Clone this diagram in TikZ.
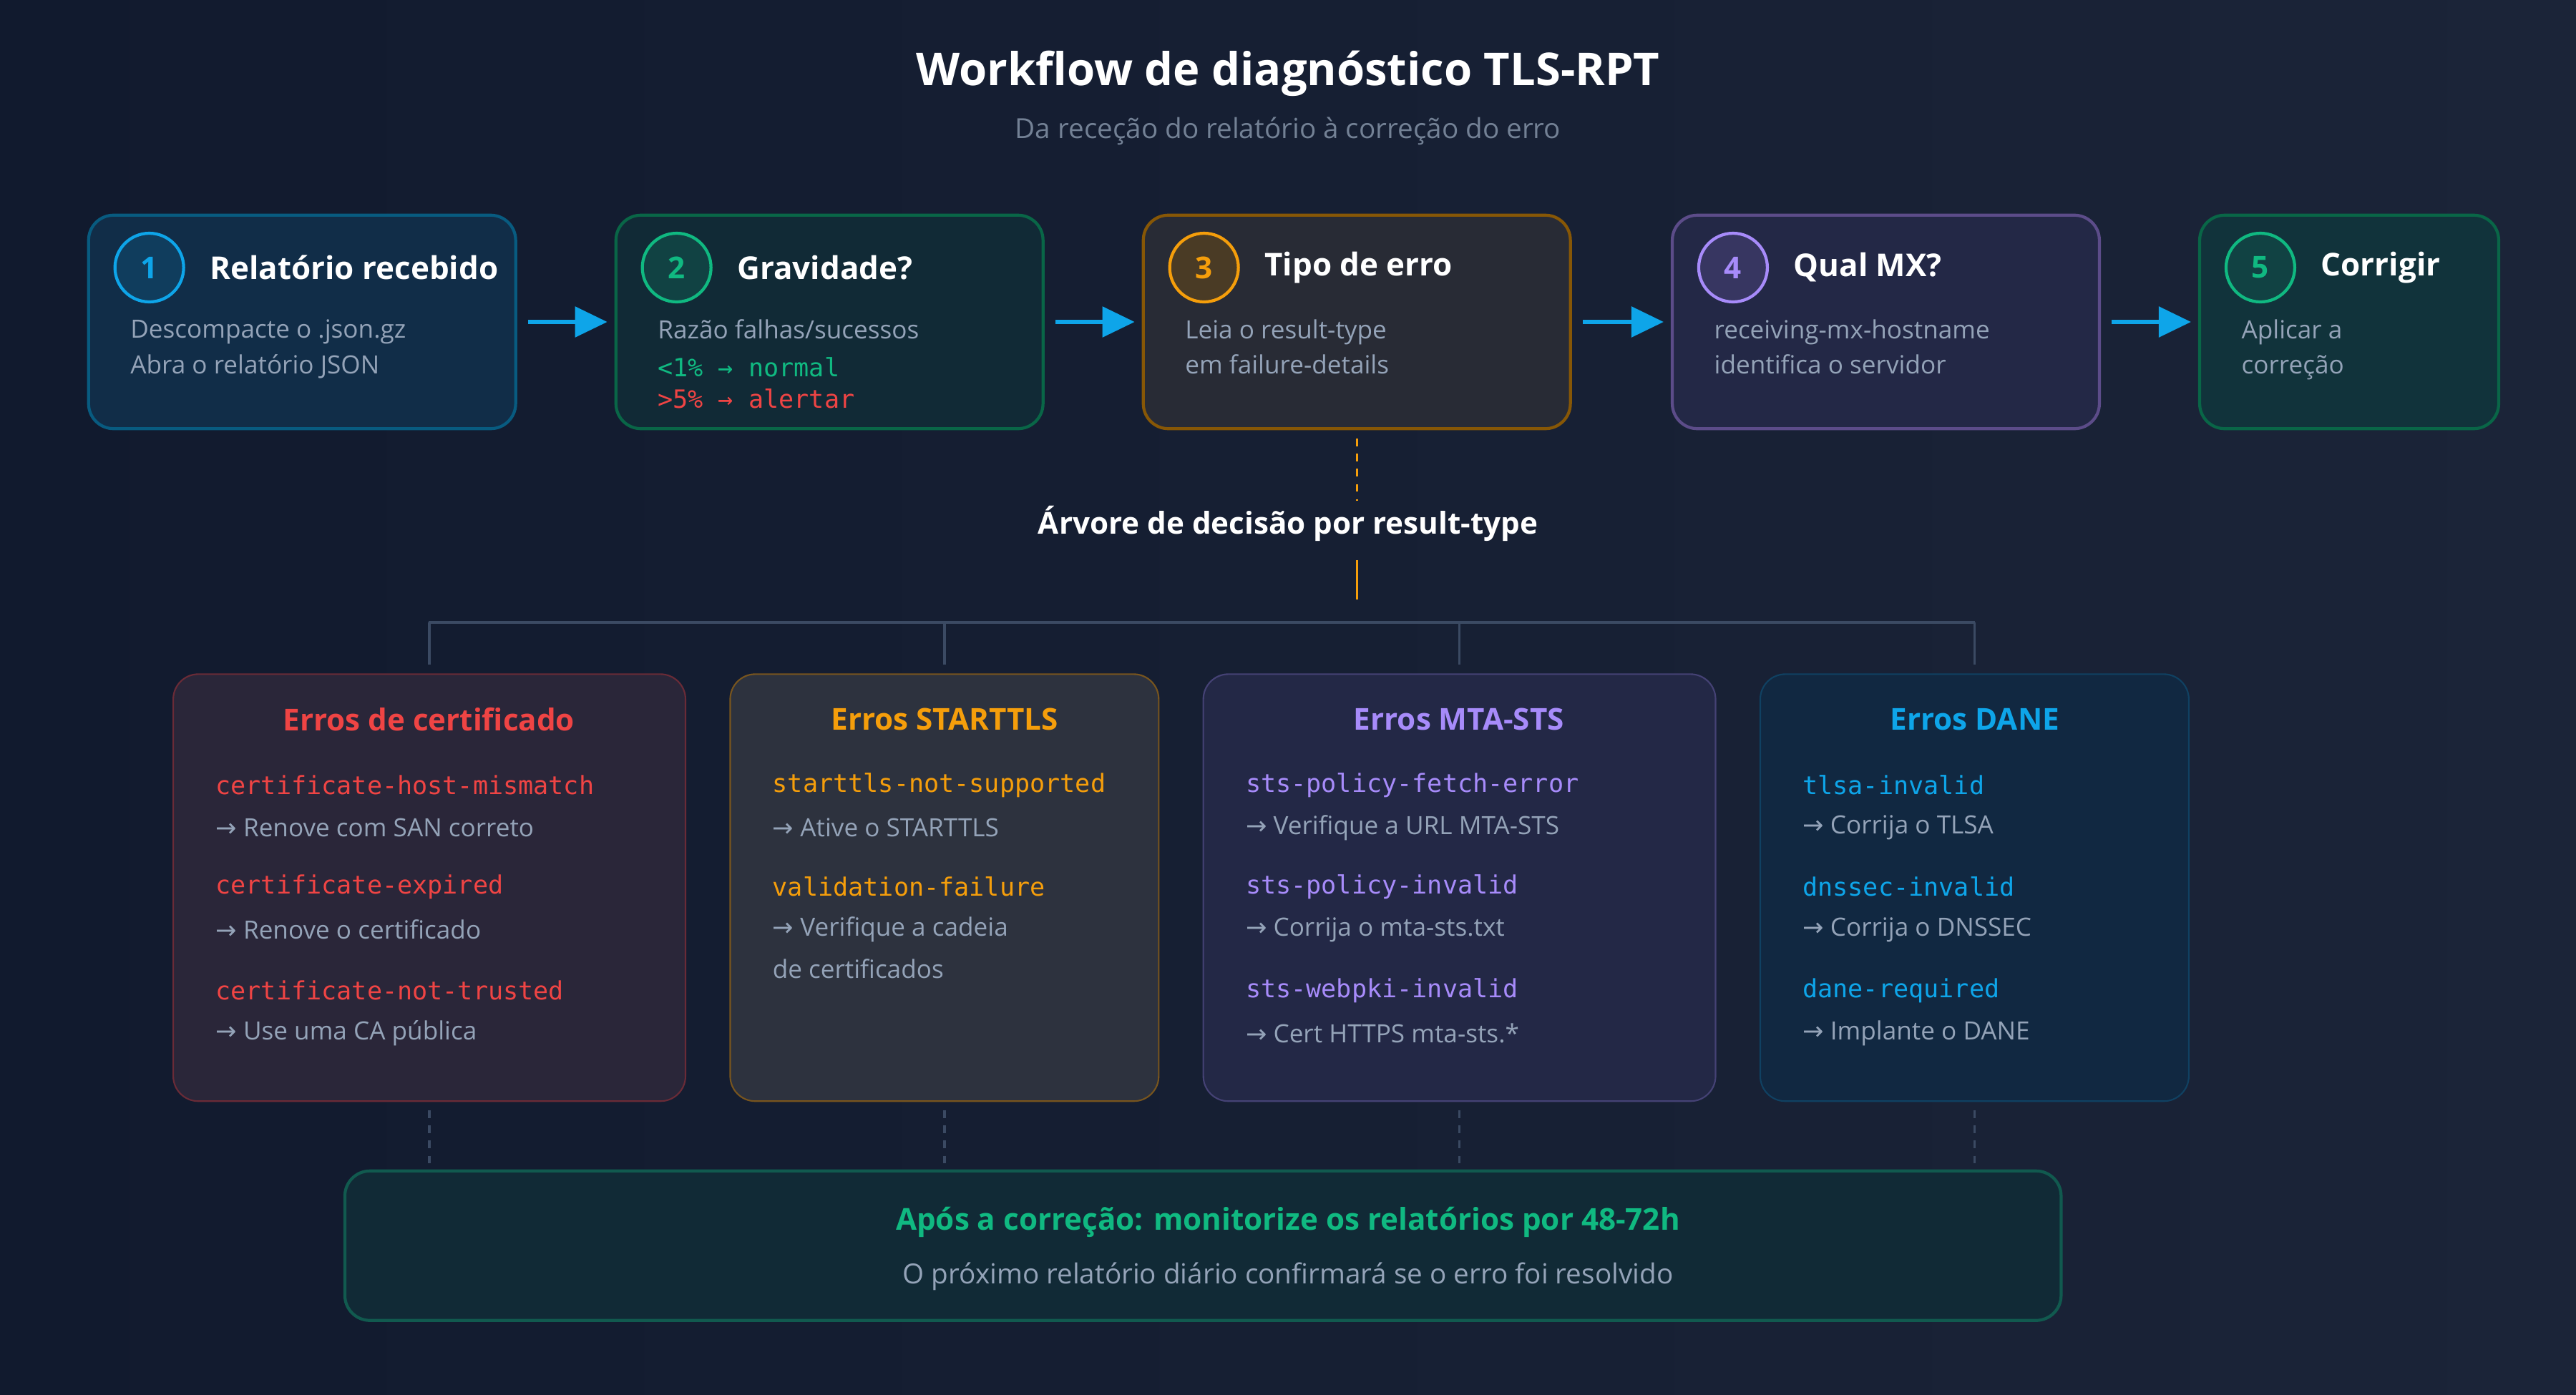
\documentclass[tikz,border=0pt]{standalone}
\usepackage{fontspec}
\setmainfont{Open Sans}
\setsansfont{Open Sans}
\setmonofont{DejaVu Sans Mono}
\newfontfamily\arrowfont{DejaVu Sans}
\usetikzlibrary{positioning,arrows.meta}
\definecolor{bgColor}{HTML}{111A2E}
\definecolor{bgColorB}{HTML}{1B2438}
\definecolor{mutedText}{HTML}{94A3B8}
\definecolor{lineColor}{HTML}{3B4A63}
\definecolor{blueC}{HTML}{0EA5E9}
\definecolor{greenC}{HTML}{10B981}
\definecolor{orangeC}{HTML}{F59E0B}
\definecolor{purpleC}{HTML}{A78BFA}
\definecolor{redC}{HTML}{EF4444}
\newcommand{\goTo}{{\arrowfont →}}
\tikzset{
  stepBox/.style = {draw, line width=1.2pt, rounded corners=.35cm, minimum height=2.985cm, inner sep=0pt},
  errBox/.style = {draw, line width=.6pt, rounded corners=.35cm, minimum height=5.97cm, inner sep=0pt},
  stepNum/.style = {circle, draw, line width=1.2pt, minimum size=.96cm, inner sep=0pt, font=\bfseries\large},
  stepTitle/.style = {anchor=west, inner xsep=0pt, text=white, font=\bfseries\fontsize{12.5}{15}\selectfont},
  bodyText/.style = {anchor=west, inner xsep=0pt, text=mutedText, font=\fontsize{10}{12}\selectfont},
  codeText/.style = {anchor=west, inner xsep=0pt, font=\ttfamily\fontsize{10}{12}\selectfont},
  errTitle/.style = {font=\bfseries\fontsize{12}{15}\selectfont},
  flowArrow/.style = {-{Triangle[length=.45cm,width=.42cm]}, blueC, line width=1.6pt},
  treeLine/.style = {lineColor, line width=1pt},
}
\newcommand{\stepNode}[8]{% name, x, width, colour, fill, number, title, body
  \node [stepBox, draw=#4!55!black, fill=#5, minimum width=#3, anchor=west] (#1) at (#2,196) {};
  \node [stepNum, draw=#4, fill=#4!25!bgColor, text=#4] (#1n) at ([xshift=.87cm,yshift=.76cm]#1.west) {#6};
  \node [stepTitle] (#1t) at ([xshift=.34cm]#1n.east) {#7};
  \node [bodyText, align=left, anchor=north west] (#1b) at ([xshift=.6cm,yshift=-1.36cm]#1.north west) {#8};
}
\begin{document}
\begin{tikzpicture}[x=0.02296cm, y=-0.02296cm]
  \shade [left color=bgColor, right color=bgColorB] (0,0) rectangle (1568,849);
  \useasboundingbox (0,0) rectangle (1568,849);

  % title
  \node [text=white, font=\bfseries\fontsize{18}{22}\selectfont] (title) at (784,45) {Workflow de diagnóstico TLS-RPT};
  \node [text=mutedText!75!bgColor, font=\fontsize{11}{13}\selectfont] (subtitle) at (784,80) {Da receção do relatório à correção do erro};

  % steps
  \stepNode{s1}{53}{5.97cm}{blueC}{blueC!14!bgColor}{1}{Relatório recebido}{Descompacte o .json.gz\\[2pt]Abra o relatório JSON}
  \stepNode{s2}{374}{5.97cm}{greenC}{greenC!10!bgColor}{2}{Gravidade?}{Razão falhas/sucessos}
  \node [codeText, text=greenC, anchor=north west] (s2c) at ([yshift=0cm]s2b.south west) {<1\% → normal};
  \node [codeText, text=redC, anchor=north west] (s2d) at ([yshift=.08cm]s2c.south west) {>5\% → alertar};
  \stepNode{s3}{695}{5.97cm}{orangeC}{orangeC!6!bgColorB}{3}{Tipo de erro}{Leia o result-type\\[2pt]em failure-details}
  \stepNode{s4}{1017}{5.97cm}{purpleC}{purpleC!12!bgColor}{4}{Qual MX?}{receiving-mx-hostname\\[2pt]identifica o servidor}
  \stepNode{s5}{1338}{4.18cm}{greenC}{greenC!16!bgColor}{5}{Corrigir}{Aplicar a\\[2pt]correção}

  \foreach \a/\b in {s1/s2, s2/s3, s3/s4, s4/s5}
    \draw [flowArrow, shorten <=.15cm, shorten >=.1cm] (\a.east) -- (\b.west);

  % decision tree
  \node [text=white, font=\bfseries\fontsize{12}{15}\selectfont] (tree) at (784,319) {Árvore de decisão por result-type};
  \draw [orangeC, line width=1pt, dash pattern=on 3pt off 3pt] ([yshift=-.12cm]s3.south -| 826,0) -- (826,305);
  \draw [orangeC, line width=1pt] (826,341) -- (826,365);
  \coordinate (hub) at (826,379);
  \draw [treeLine] (261,379) -- (1202,379);

  % error groups
  \node [errBox, draw=redC!40!bgColor, fill=redC!7!bgColorB, minimum width=7.16cm, anchor=north west] (e1) at (105,410) {};
  \node [errBox, draw=orangeC!45!bgColor, fill=orangeC!4!bgColorB!90!gray, minimum width=5.99cm, anchor=north west] (e2) at (444,410) {};
  \node [errBox, draw=purpleC!35!bgColor, fill=purpleC!12!bgColor, minimum width=7.16cm, anchor=north west] (e3) at (732,410) {};
  \node [errBox, draw=blueC!28!bgColor, fill=blueC!10!bgColor, minimum width=5.99cm, anchor=north west] (e4) at (1071,410) {};

  \foreach \e in {e1, e2, e3, e4} {
    \draw [treeLine] (\e.north |- hub) -- ([yshift=.12cm]\e.north);
    \draw [treeLine, dash pattern=on 3pt off 3pt] ([yshift=-.12cm]\e.south) -- ([yshift=-.9cm]\e.south);
  }

  \node [errTitle, text=redC] (e1t) at (261,438) {Erros de certificado};
  \node [codeText, text=redC] (e1a) at (131,478) {certificate-host-mismatch};
  \node [bodyText] (e1b) at (131,504) {\goTo{} Renove com SAN correto};
  \node [codeText, text=redC] (e1c) at (131,540) {certificate-expired};
  \node [bodyText] (e1d) at (131,566) {\goTo{} Renove o certificado};
  \node [codeText, text=redC] (e1e) at (131,603) {certificate-not-trusted};
  \node [bodyText] (e1f) at (131,629) {\goTo{} Use uma CA pública};

  \node [errTitle, text=orangeC] (e2t) at (575,438) {Erros STARTTLS};
  \node [codeText, text=orangeC] (e2a) at (470,478) {starttls-not-supported};
  \node [bodyText] (e2b) at (470,504) {\goTo{} Ative o STARTTLS};
  \node [codeText, text=orangeC] (e2c) at (470,540) {validation-failure};
  \node [bodyText] (e2d) at (470,566) {\goTo{} Verifique a cadeia};
  \node [bodyText] (e2e) at (470,590) {de certificados};

  \node [errTitle, text=purpleC] (e3t) at (888,438) {Erros MTA-STS};
  \node [codeText, text=purpleC] (e3a) at (758,478) {sts-policy-fetch-error};
  \node [bodyText] (e3b) at (758,504) {\goTo{} Verifique a URL MTA-STS};
  \node [codeText, text=purpleC] (e3c) at (758,540) {sts-policy-invalid};
  \node [bodyText] (e3d) at (758,566) {\goTo{} Corrija o mta-sts.txt};
  \node [codeText, text=purpleC] (e3e) at (758,603) {sts-webpki-invalid};
  \node [bodyText] (e3f) at (758,629) {\goTo{} Cert HTTPS mta-sts.*};

  \node [errTitle, text=blueC] (e4t) at (1202,438) {Erros DANE};
  \node [codeText, text=blueC] (e4a) at (1097,478) {tlsa-invalid};
  \node [bodyText] (e4b) at (1097,504) {\goTo{} Corrija o TLSA};
  \node [codeText, text=blueC] (e4c) at (1097,540) {dnssec-invalid};
  \node [bodyText] (e4d) at (1097,566) {\goTo{} Corrija o DNSSEC};
  \node [codeText, text=blueC] (e4e) at (1097,603) {dane-required};
  \node [bodyText] (e4f) at (1097,629) {\goTo{} Implante o DANE};

  % follow-up
  \node [draw=greenC!40!bgColor, line width=1.2pt, fill=greenC!10!bgColor, rounded corners=.35cm, minimum width=23.99cm, minimum height=2.09cm, anchor=north west] (mon) at (209,712) {};
  \node [text=greenC, font=\bfseries\fontsize{12}{15}\selectfont] (mont) at (784,744) {Após a correção: monitorize os relatórios por 48-72h};
  \node [text=mutedText, font=\fontsize{11}{13}\selectfont] (mons) at (784,777) {O próximo relatório diário confirmará se o erro foi resolvido};
\end{tikzpicture}
\end{document}
